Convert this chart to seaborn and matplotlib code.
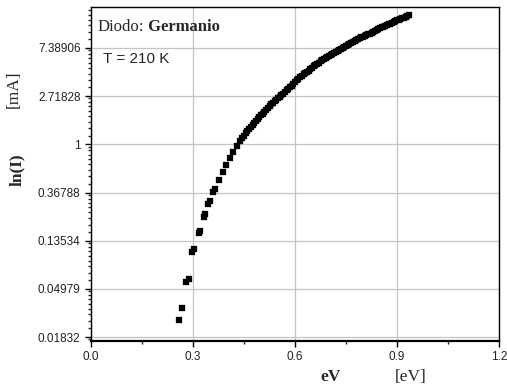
import numpy as np
import pandas as pd
import matplotlib
matplotlib.use("Agg")
import matplotlib.pyplot as plt
import seaborn as sns
from matplotlib.ticker import FixedLocator

# Datos (eV, ln(I) con I en mA)
ev_sparse = [0.260, 0.267, 0.279, 0.287, 0.298, 0.302, 0.317, 0.321, 0.331, 0.335,
             0.345, 0.349, 0.360, 0.364, 0.376, 0.387, 0.398, 0.408, 0.418, 0.428, 0.437]
ln_sparse = [-3.64, -3.40, -2.85, -2.80, -2.24, -2.18, -1.84, -1.79, -1.50, -1.45,
             -1.23, -1.18, -0.98, -0.93, -0.74, -0.58, -0.43, -0.29, -0.16, -0.04, 0.06]

ev_dense = [0.445, 0.450, 0.455, 0.460, 0.465, 0.470, 0.475, 0.480, 0.485, 0.490,
            0.495, 0.500, 0.505, 0.510, 0.515, 0.520, 0.525, 0.530, 0.535, 0.540,
            0.545, 0.550, 0.555, 0.560, 0.565, 0.570, 0.575, 0.580, 0.585, 0.590,
            0.595, 0.600, 0.605, 0.610, 0.615, 0.620, 0.625, 0.630, 0.635, 0.640,
            0.645, 0.650, 0.655, 0.660, 0.665, 0.670, 0.675, 0.680, 0.685, 0.690,
            0.695, 0.700, 0.705, 0.710, 0.715, 0.720, 0.725, 0.730, 0.735, 0.740,
            0.745, 0.750, 0.755, 0.760, 0.765, 0.770, 0.775, 0.780, 0.785, 0.790,
            0.795, 0.800, 0.805, 0.810, 0.815, 0.820, 0.825, 0.830, 0.835, 0.840,
            0.845, 0.850, 0.855, 0.860, 0.865, 0.870, 0.875, 0.880, 0.885, 0.890,
            0.895, 0.900, 0.905, 0.910, 0.915, 0.920, 0.925, 0.930, 0.935]
ln_dense = [0.13, 0.18, 0.23, 0.27, 0.32, 0.36, 0.40, 0.44, 0.48, 0.52,
            0.56, 0.60, 0.64, 0.68, 0.72, 0.76, 0.79, 0.83, 0.86, 0.89,
            0.93, 0.96, 0.99, 1.02, 1.05, 1.08, 1.12, 1.15, 1.19, 1.22,
            1.26, 1.29, 1.33, 1.36, 1.39, 1.42, 1.45, 1.48, 1.51, 1.53,
            1.56, 1.59, 1.62, 1.64, 1.67, 1.69, 1.72, 1.74, 1.77, 1.79,
            1.82, 1.84, 1.86, 1.88, 1.90, 1.92, 1.94, 1.96, 1.98, 2.00,
            2.02, 2.04, 2.06, 2.08, 2.10, 2.12, 2.14, 2.16, 2.18, 2.20,
            2.22, 2.23, 2.25, 2.27, 2.29, 2.30, 2.32, 2.34, 2.36, 2.37,
            2.39, 2.41, 2.43, 2.44, 2.46, 2.47, 2.49, 2.50, 2.52, 2.53,
            2.55, 2.57, 2.59, 2.60, 2.62, 2.63, 2.65, 2.67, 2.69]

x_ticks = [0.0, 0.3, 0.6, 0.9, 1.2]
x_labels = ["0.0", "0.3", "0.6", "0.9", "1.2"]
y_ticks = [-4, -3, -2, -1, 0, 1, 2]
y_labels = ["0.01832", "0.04979", "0.13534", "0.36788", "1", "2.71828", "7.38906"]

df = pd.DataFrame({"eV": ev_sparse + ev_dense, "lnI": ln_sparse + ln_dense})

sns.set_style("ticks")
plt.rcParams['font.family'] = ['Liberation Sans', 'DejaVu Sans']

fig = plt.figure(figsize=(5.07, 3.89), dpi=100)
ax = fig.add_axes([91 / 507, 48 / 389, 408 / 507, 334 / 389])

sns.scatterplot(data=df, x="eV", y="lnI", ax=ax, marker="s", s=13,
                color="black", edgecolor="black", linewidth=0.2, zorder=3)

ax.set_xlim(0, 1.2)
ax.set_ylim(-4.08, 2.85)
ax.set_xticks(x_ticks)
ax.set_xticklabels(x_labels)
ax.set_yticks(y_ticks)
ax.set_yticklabels(y_labels)

# ticks menores
ax.xaxis.set_minor_locator(FixedLocator([0.15, 0.45, 0.75, 1.05]))
subs = np.arange(1.2, 2.7, 0.2)
minor_y = [k + np.log(s) for k in range(-5, 3) for s in subs]
minor_y = [v for v in minor_y if -4.08 < v < 2.85]
ax.yaxis.set_minor_locator(FixedLocator(minor_y))

ax.tick_params(axis="both", which="major", direction="out", length=4, width=1,
               labelsize=8.5, color="black", labelcolor="#222222")
ax.tick_params(axis="both", which="minor", direction="out", length=2.5, width=1)
ax.grid(True, which="major", color="#c4c4c4", linewidth=0.9)
ax.set_axisbelow(True)
for sp in ax.spines.values():
    sp.set_visible(True)
    sp.set_color("black")
    sp.set_linewidth(1.0)
ax.spines["bottom"].set_linewidth(1.6)

ax.set_xlabel("")
ax.set_ylabel("")

serif = ['Liberation Serif', 'DejaVu Serif']
t1 = ax.text(0.015, 0.928, "Diodo:", transform=ax.transAxes, family=serif,
             fontsize=12, va="baseline", ha="left")
ax.annotate(" Germanio", xy=(1, 0), xycoords=t1, family=serif, fontsize=12,
            fontweight="bold", va="bottom", ha="left")
ax.text(0.029, 0.832, "T = 210 K", transform=ax.transAxes, fontsize=11,
        va="baseline", ha="left")

fig.text(331 / 507, 1 - 377 / 389, "eV", family=serif, fontsize=12.5,
         fontweight="bold", ha="center", va="center")
fig.text(411 / 507, 1 - 377 / 389, "[eV]", family=serif, fontsize=12.5,
         ha="center", va="center")
fig.text(17 / 507, 1 - 170 / 389, "ln(I)", family=serif, fontsize=12.5,
         fontweight="bold", rotation=90, ha="center", va="center")
fig.text(14 / 507, 1 - 89 / 389, "[mA]", family=serif, fontsize=12.5,
         rotation=90, ha="center", va="center")

fig.savefig("out.png", dpi=100)
